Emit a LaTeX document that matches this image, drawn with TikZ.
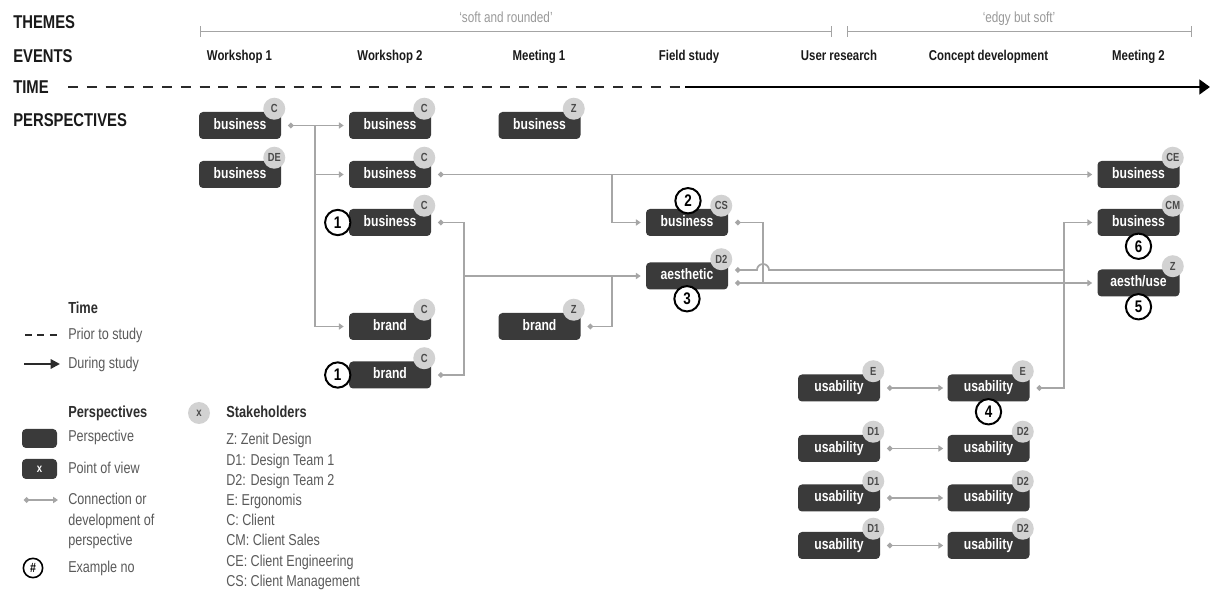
\documentclass[tikz,border=0pt]{standalone}
\usepackage{fontspec}
\setmainfont{Liberation Sans}[FakeStretch=0.8]
\usetikzlibrary{arrows.meta,calc}

\definecolor{boxfill}{HTML}{3A3A3A}
\definecolor{badgefill}{HTML}{D2D2D2}
\definecolor{badgetext}{HTML}{4A4A4A}
\definecolor{connline}{HTML}{A6A6A6}
\definecolor{themegray}{HTML}{A4A4A4}
\definecolor{themetextgray}{HTML}{9A9A9A}
\definecolor{legendtext}{HTML}{5A5A5A}
\definecolor{legendtitle}{HTML}{2E2E2E}
\definecolor{headtext}{HTML}{1A1A1A}
\definecolor{dashgray}{HTML}{2A2A2A}

\tikzset{
  head/.style={anchor=west, inner sep=0pt, text=headtext, font=\bfseries\fontsize{13.9}{14}\selectfont},
  eventtext/.style={anchor=base, inner sep=0pt, text=headtext, font=\bfseries\fontsize{10.7}{11}\selectfont},
  themetext/.style={anchor=base, inner sep=0pt, text=themetextgray, font=\fontsize{11}{11}\selectfont},
  themebar/.style={draw=themegray, line width=1.1pt, {Bar[width=8pt]}-{Bar[width=8pt]}},
  pbox/.style={rectangle, rounded corners=3pt, fill=boxfill, text=white,
    font=\bfseries\fontsize{11.4}{12}\selectfont, text height=8.3pt, text depth=2.4pt,
    minimum width=61.5pt, minimum height=20.25pt, inner sep=0pt},
  badge/.style={circle, fill=badgefill, text=badgetext,
    font=\bfseries\fontsize{8.8}{9}\selectfont, minimum size=16.5pt, inner sep=0pt},
  numc/.style={circle, draw=black, line width=1.5pt, fill=white,
    font=\bfseries\fontsize{12.6}{13}\selectfont, minimum size=19pt, inner sep=0pt},
  conn/.style={draw=connline, line width=1.3pt},
  dotarrow/.style={{Circle[length=4pt]}-{Triangle[length=3.6pt,width=4.6pt]}},
  dotonly/.style={{Circle[length=4pt]}-},
  dotdot/.style={{Circle[length=4pt]}-{Circle[length=4pt]}},
  arrowonly/.style={-{Triangle[length=3.6pt,width=4.6pt]}},
  legtext/.style={anchor=west, inner sep=0pt, text=legendtext, text height=8.7pt, text depth=2.5pt,
    font=\fontsize{11.8}{12}\selectfont},
  legtitle/.style={anchor=west, inner sep=0pt, text=legendtitle, text height=8.7pt, text depth=2.5pt,
    font=\bfseries\fontsize{12}{12}\selectfont},
}

% a perspective box with its stakeholder badge at the top right corner
\newcommand\perspbox[4]{%
  \node[pbox] (#1) at (#2) {#3};
  \node[badge] (#1-b) at ($(#1.north east)+(-7,-3)$) {#4};}

\begin{document}
\begin{tikzpicture}[x=0.75pt,y=-0.75pt]
\fill[white] (0,0) rectangle (1211,591);
\useasboundingbox (0,0) rectangle (1211,591);

% row headings
\node[head] (hThemes) at (13,22) {THEMES};
\node[head] (hEvents) at (13,56) {EVENTS};
\node[head] (hTime)   at (13,87) {TIME};
\node[head] (hPersp)  at (13,120) {PERSPECTIVES};

% themes
\draw[themebar] (200,31.5) -- (832,31.5);
\draw[themebar] (847,31.5) -- (1192,31.5);
\node[themetext] (tSoft) at (506,23) {‘soft and rounded’};
\node[themetext] (tEdgy) at (1019,23) {‘edgy but soft’};

% events
\foreach \x/\t [count=\i] in {239.5/Workshop 1, 390/Workshop 2, 539/Meeting 1,
    689/Field study, 839/User research, 988.5/Concept development, 1138.5/Meeting 2}
  \node[eventtext] (ev\i) at (\x,61) {\t};

% time axis
\coordinate (tStart) at (68,87);
\coordinate (tMid) at (685,87);
\coordinate (tEnd) at (1210,87);
\draw[line width=2.2pt, draw=dashgray, dash pattern=on 7.5pt off 6.6pt] (tStart) -- (tMid);
\draw[line width=2.2pt, draw=black, -{Triangle[length=8pt,width=11pt]}] (tMid) -- (tEnd);

% perspectives
\perspbox{c1a}{240,125.5}{business}{C}
\perspbox{c1b}{240,174.5}{business}{DE}
\perspbox{c2a}{390,125.5}{business}{C}
\perspbox{c2b}{390,174.5}{business}{C}
\perspbox{c2c}{390,222.5}{business}{C}
\perspbox{c2d}{390,326.5}{brand}{C}
\perspbox{c2e}{390,375}{brand}{C}
\perspbox{c3a}{539.5,125.5}{business}{Z}
\perspbox{c3b}{539.5,326.5}{brand}{Z}
\perspbox{cs}{687,222.5}{business}{CS}
\perspbox{ae}{687,276}{aesthetic}{D2}
\perspbox{ce}{1138.5,174.5}{business}{CE}
\perspbox{cm}{1138.5,222.5}{business}{CM}
\perspbox{au}{1138.5,283}{aesth/use}{Z}
\perspbox{u1a}{839,388}{usability}{E}
\perspbox{u2a}{988.5,388}{usability}{E}
\perspbox{u1b}{839,448.5}{usability}{D1}
\perspbox{u2b}{988.5,448.5}{usability}{D2}
\perspbox{u1c}{839,498}{usability}{D1}
\perspbox{u2c}{988.5,498}{usability}{D2}
\perspbox{u1d}{839,545.5}{usability}{D1}
\perspbox{u2d}{988.5,545.5}{usability}{D2}

% junction columns
\coordinate (jA) at (315,0);
\coordinate (jB) at (612,0);
\coordinate (jC) at (464,0);
\coordinate (jD) at (763,0);
\coordinate (jE) at (1064,0);
\coordinate (aeup) at ($(ae.east)+(7,-6)$);
\coordinate (aelow) at ($(ae.east)+(7,7)$);

% connections
\draw[conn, dotarrow] ($(c1a.east)+(7,0)$) -- ($(c2a.west)+(-5,0)$);
\draw[conn, arrowonly] (jA |- c1a) |- ($(c2b.west)+(-5,0)$);
\draw[conn, arrowonly] (jA |- c1a) |- ($(c2d.west)+(-5,0)$);

\draw[conn, dotarrow] ($(c2b.east)+(7,0)$) -- ($(ce.west)+(-5,0)$);
\draw[conn, arrowonly] (jB |- c2b) |- ($(cs.west)+(-5,0)$);

\draw[conn, dotdot] ($(c2c.east)+(7,0)$) -| (jC |- c2e) -- ($(c2e.east)+(7,0)$);
\draw[conn, arrowonly] (jC |- ae) -- ($(ae.west)+(-5,0)$);
\draw[conn, dotonly] ($(c3b.east)+(7,0)$) -| (jB |- ae);

\draw[conn, dotonly] ($(cs.east)+(7,0)$) -| (jD |- aelow);
\draw[conn, dotarrow] (aelow) -- ($(au.west)+(-5,0)$);
\draw[conn, dotonly] (aeup) -- ($(jD |- aeup)+(-6,0)$)
  arc[start angle=180, end angle=360, radius=6] -- (jE |- aeup);
\draw[conn, dotarrow] ($(u2a.east)+(7,0)$) -| (jE |- cm) -- ($(cm.west)+(-5,0)$);

\foreach \r in {a,b,c,d}
  \draw[conn, dotarrow] ($(u1\r.east)+(7,0)$) -- ($(u2\r.west)+(-4,0)$);

% example numbers
\node[numc] (n1a) at ($(c2c.west)+(-11,0)$) {1};
\node[numc] (n1b) at ($(c2e.west)+(-11,0)$) {1};
\node[numc] (n2) at ($(cs.north)+(1,-8)$) {2};
\node[numc] (n3) at ($(ae.south)+(0,9)$) {3};
\node[numc] (n4) at ($(u2a.south)+(0,10)$) {4};
\node[numc] (n5) at ($(au.south)+(0,10)$) {5};
\node[numc] (n6) at ($(cm.south)+(0,10)$) {6};

% legend: time
\node[legtitle] (lgTime) at (68,309) {Time};
\coordinate (lgDashA) at (25,335);
\coordinate (lgDashB) at (57,335);
\draw[line width=1.6pt, draw=dashgray, dash pattern=on 5.3pt off 4pt] (lgDashA) -- (lgDashB);
\node[legtext] (lgPrior) at (68,335) {Prior to study};
\coordinate (lgArrA) at (24,364);
\coordinate (lgArrB) at (60,364);
\draw[line width=1.6pt, draw=dashgray, -{Triangle[length=7pt,width=7pt]}] (lgArrA) -- (lgArrB);
\node[legtext] (lgDuring) at (68,364) {During study};

% legend: perspectives
\node[legtitle] (lgPersp) at (68,413) {Perspectives};
\node[pbox, minimum width=26.25pt, minimum height=14.25pt] (lgBox) at (39.5,438.5) {};
\node[legtext] (lgBoxT) at (68,437) {Perspective};
\node[pbox, minimum width=26.25pt, minimum height=15pt, text height=, text depth=,
  font=\bfseries\fontsize{9}{9}\selectfont] (lgPov) at (39.5,469) {x};
\node[legtext] (lgPovT) at (68,469) {Point of view};
\coordinate (lgConnA) at (24,500);
\coordinate (lgConnB) at (58,500);
\draw[conn, dotarrow] (lgConnA) -- (lgConnB);
\node[legtext] (lgConn1) at (68,500) {Connection or};
\node[legtext] (lgConn2) at (68,521) {development of};
\node[legtext] (lgConn3) at (68,541) {perspective};
\node[numc, minimum size=14.5pt, line width=1.2pt, font=\bfseries\fontsize{10}{10}\selectfont] (lgNum) at (33,568) {\#};
\node[legtext] (lgNumT) at (68,568) {Example no};

% legend: stakeholders
\node[badge, font=\bfseries\fontsize{9}{9}\selectfont] (lgBadge) at (199,413) {x};
\node[legtitle] (lgStake) at (226,413) {Stakeholders};
\foreach \y/\t [count=\i] in {440/Z: Zenit Design, 461/D1: Design Team 1, 481/D2: Design Team 2,
    501/E: Ergonomis, 521/C: Client, 541/CM: Client Sales, 562/CE: Client Engineering,
    582/CS: Client Management}
  \node[legtext] (lgS\i) at (226,\y) {\t};
\end{tikzpicture}
\end{document}
